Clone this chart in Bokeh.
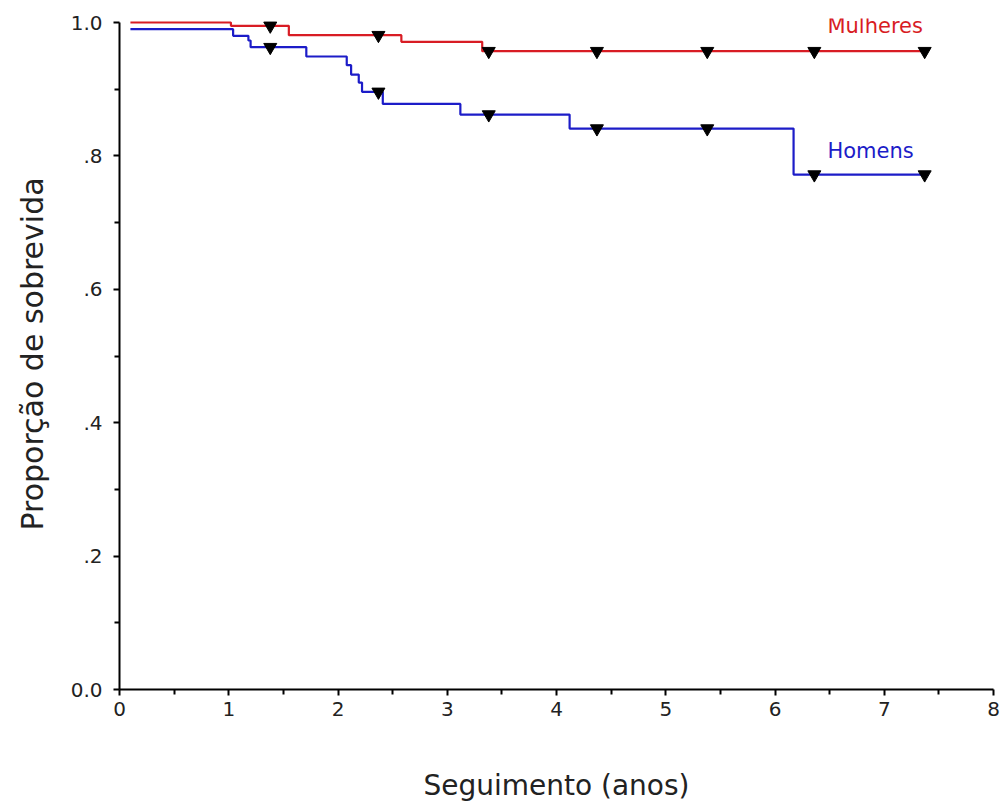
from bokeh.plotting import figure
from bokeh.models import Range1d, FixedTicker, Label
from bokeh.embed import file_html
from bokeh.resources import INLINE

# Kaplan-Meier step data (time in years, survival proportion)
mulheres_t = [0.10, 1.02, 1.55, 2.58, 3.32, 7.40]
mulheres_s = [1.000, 0.995, 0.981, 0.971, 0.957, 0.957]

homens_t = [0.10, 1.04, 1.18, 1.20, 1.71, 2.08, 2.12, 2.19, 2.22, 2.41, 3.12, 4.12, 6.17, 7.40]
homens_s = [0.990, 0.980, 0.973, 0.963, 0.949, 0.936, 0.922, 0.910, 0.896, 0.878, 0.862, 0.841, 0.772, 0.772]

# censored observations
cens_t = [1.38, 2.37, 3.38, 4.37, 5.38, 6.36, 7.37]
mulheres_cens = [0.995, 0.981, 0.957, 0.957, 0.957, 0.957, 0.957]
homens_cens = [0.963, 0.896, 0.862, 0.841, 0.841, 0.772, 0.772]

x_ticks = [0, 1, 2, 3, 4, 5, 6, 7, 8]
x_minor = [0.5, 1.5, 2.5, 3.5, 4.5, 5.5, 6.5, 7.5]
y_ticks = [0.0, 0.2, 0.4, 0.6, 0.8, 1.0]
y_minor = [0.1, 0.3, 0.5, 0.7, 0.9]
y_labels = ["0.0", ".2", ".4", ".6", ".8", "1.0"]

RED = "#d81c24"
BLUE = "#1c1cc8"
FONT = "DejaVu Sans"

p = figure(width=1001, height=804, output_backend="svg", toolbar_location=None,
           x_range=Range1d(0, 8), y_range=Range1d(0, 1.006),
           min_border_left=119, min_border_right=8, min_border_top=18, min_border_bottom=114)
p.outline_line_color = None
p.xgrid.visible = False
p.ygrid.visible = False
p.background_fill_color = "white"
p.border_fill_color = "white"

p.step(mulheres_t, mulheres_s, mode="after", line_color=RED, line_width=2.2)
p.step(homens_t, homens_s, mode="after", line_color=BLUE, line_width=2.2)
p.scatter(cens_t, mulheres_cens, marker="inverted_triangle", size=13,
          fill_color="black", line_color="black")
p.scatter(cens_t, homens_cens, marker="inverted_triangle", size=13,
          fill_color="black", line_color="black")

p.add_layout(Label(x=6.48, y=0.9955, text="Mulheres", text_color=RED, text_font=FONT,
                   text_font_size="21px", text_baseline="middle", text_align="left"))
p.add_layout(Label(x=6.48, y=0.808, text="Homens", text_color=BLUE, text_font=FONT,
                   text_font_size="21px", text_baseline="middle", text_align="left"))

xa = p.xaxis[0]
xa.ticker = FixedTicker(ticks=x_ticks, minor_ticks=x_minor)
xa.major_label_overrides = {t: str(t) for t in x_ticks}
xa.axis_label = "Seguimento (anos)"

ya = p.yaxis[0]
ya.ticker = FixedTicker(ticks=y_ticks, minor_ticks=y_minor)
ya.major_label_overrides = {t: l for t, l in zip(y_ticks, y_labels)}
ya.axis_label = "Proporção de sobrevida"
ya.bounds = (0, 1)

for ax in (xa, ya):
    ax.axis_line_width = 2
    ax.axis_line_color = "black"
    ax.major_tick_line_color = "black"
    ax.minor_tick_line_color = "black"
    ax.major_tick_line_width = 2
    ax.minor_tick_line_width = 2
    ax.major_tick_in = 0
    ax.minor_tick_in = 0
    ax.major_tick_out = 6
    ax.minor_tick_out = 5
    ax.major_label_text_font = FONT
    ax.major_label_text_font_size = "20px"
    ax.major_label_text_color = "#222222"
    ax.axis_label_text_font = FONT
    ax.axis_label_text_font_style = "normal"
    ax.axis_label_text_color = "#222222"

xa.axis_label_text_font_size = "28px"
ya.axis_label_text_font_size = "30px"
xa.major_label_standoff = 6
xa.axis_label_standoff = 50
ya.major_label_standoff = 11
ya.axis_label_standoff = 18

open("out.html", "w").write(file_html(p, INLINE))
